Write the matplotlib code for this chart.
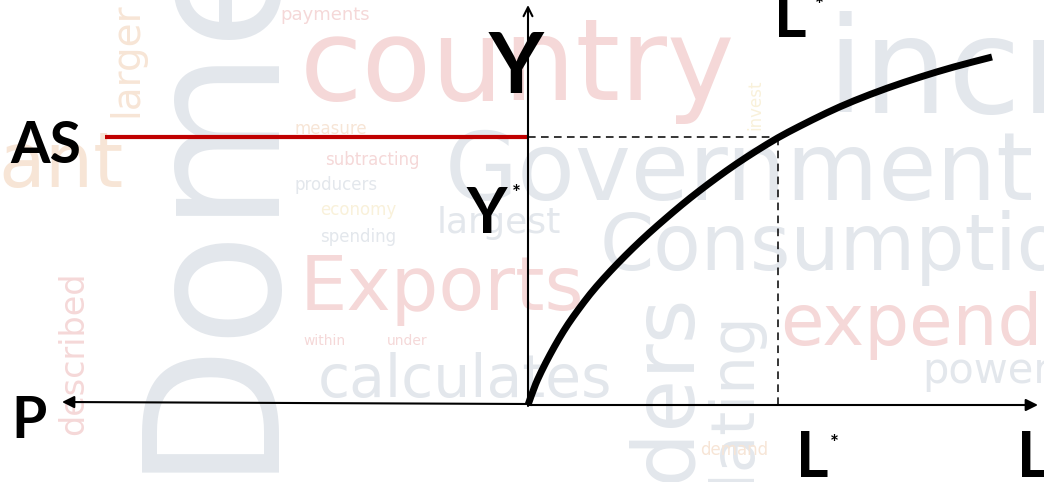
import matplotlib
matplotlib.use("Agg")
import matplotlib.pyplot as plt
from matplotlib.path import Path
from matplotlib.patches import PathPatch

# production function Y = f(L) (origin at the axis crossing)
curve_L = [0, 6, 13, 22, 31, 40, 50, 62, 75, 90, 105, 121, 137, 154, 171, 189,
           208, 228, 250, 270, 299, 325, 359, 392, 425, 464]
curve_Y = [0, 17.5, 33, 50.5, 66.5, 81, 95, 111, 126, 142, 157, 172, 186, 200.5, 214, 227.5,
           241, 254, 267.5, 278, 292.5, 304, 317, 328, 338, 348]
L_star = 250
Y_star = 268
AS_left = -423

# faded word cloud behind the diagram: (word, x px, baseline px, size, colour, rotation, align)
GRAY, RED, ORANGE, YELLOW = '#e3e7ec', '#f5d8d8', '#f7e5d6', '#f9f1da'
cloud = [
    ('Dome', 262, 472, 135, GRAY, 90, 'left'),
    ('country', 300, 100, 82, RED, 0, 'left'),
    ('incr', 826, 113, 96, GRAY, 0, 'left'),
    ('Government', 445, 200, 68, GRAY, 0, 'left'),
    ('Consumption', 600, 270, 56, GRAY, 0, 'left'),
    ('Exports', 300, 310, 54, RED, 0, 'left'),
    ('expend', 780, 345, 51, RED, 0, 'left'),
    ('calculates', 318, 397, 42, GRAY, 0, 'left'),
    ('power', 922, 383, 30, GRAY, 0, 'left'),
    ('largest', 437, 233, 26, GRAY, 0, 'left'),
    ('ant', -2, 187, 55, ORANGE, 0, 'left'),
    ('borders', 687, 290, 62, GRAY, 90, 'right'),
    ('regulating', 750, 310, 44, GRAY, 90, 'right'),
    ('larger', 137, 117, 28, ORANGE, 90, 'left'),
    ('described', 83, 435, 24, RED, 90, 'left'),
    ('payments', 280, 20, 13, RED, 0, 'left'),
    ('subtracting', 325, 165, 12, RED, 0, 'left'),
    ('producers', 295, 190, 12, GRAY, 0, 'left'),
    ('spending', 320, 242, 12, GRAY, 0, 'left'),
    ('measure', 295, 134, 12, ORANGE, 0, 'left'),
    ('economy', 320, 215, 12, YELLOW, 0, 'left'),
    ('within', 303, 345, 10, RED, 0, 'left'),
    ('under', 387, 345, 10, RED, 0, 'left'),
    ('demand', 700, 455, 12, ORANGE, 0, 'left'),
    ('invest', 760, 130, 12, YELLOW, 90, 'left'),
]

fig = plt.figure(figsize=(10.44, 4.82), dpi=100)
fig.patch.set_facecolor('white')

bg = fig.add_axes([0, 0, 1, 1])
bg.set_xlim(0, 1044)
bg.set_ylim(482, 0)
bg.axis('off')
for word, x, y, size, col, rot, ha in cloud:
    bg.text(x, y, word, fontsize=size, color=col, family='DejaVu Sans', rotation=rot,
            rotation_mode='anchor', ha=ha, va='baseline', clip_on=True)

ax = fig.add_axes([0, 0, 1, 1])
ax.set_xlim(-528, 516)
ax.set_ylim(-77, 405)
ax.axis('off')
ax.patch.set_alpha(0)

# axes arrows
ax.annotate('', xy=(0, 400), xytext=(0, -1),
            arrowprops=dict(arrowstyle='->', lw=1.5, color='black', mutation_scale=16,
                            shrinkA=0, shrinkB=0))
ax.annotate('', xy=(510, 0), xytext=(0, 0),
            arrowprops=dict(arrowstyle='-|>', lw=1.5, color='black', mutation_scale=18,
                            shrinkA=0, shrinkB=0))
ax.annotate('', xy=(-466, 3), xytext=(0, 1),
            arrowprops=dict(arrowstyle='-|>', lw=1.5, color='black', mutation_scale=18,
                            shrinkA=0, shrinkB=0))

# AS line and dashed guides
ax.plot([AS_left, 0], [Y_star, Y_star], color='#c00000', lw=3, solid_capstyle='butt')
ax.plot([0, L_star], [Y_star, Y_star], color='black', lw=1.1, ls=(0, (5, 3.5)))
ax.plot([L_star, L_star], [0, Y_star], color='black', lw=1.1, ls=(0, (5, 3.5)))

# production function: read points used as quadratic bezier controls so the line is smooth
pts = list(zip(curve_L, curve_Y))
verts = [pts[0]]
codes = [Path.MOVETO]
for i in range(1, len(pts) - 1):
    mid = ((pts[i][0] + pts[i + 1][0]) / 2, (pts[i][1] + pts[i + 1][1]) / 2)
    verts += [pts[i], mid]
    codes += [Path.CURVE3, Path.CURVE3]
verts.append(pts[-1])
codes.append(Path.LINETO)
ax.add_patch(PathPatch(Path(verts, codes), fill=False, edgecolor='black', lw=5,
                       capstyle='butt', joinstyle='round'))

lab = dict(family='Lato', weight='bold', color='black', va='baseline')
ax.text(-12, 405 - 93, 'Y', fontsize=61, ha='center', **lab)
ax.text(-41, 405 - 233, 'Y', fontsize=45, ha='center', **lab)
ax.text(-16, 405 - 200, '*', fontsize=15, ha='left', **lab)
ax.text(-518, 405 - 163, 'AS', fontsize=41, ha='left', **lab)
ax.text(-517, 405 - 438, 'P', fontsize=41, ha='left', **lab)
ax.text(268, 405 - 477, 'L', fontsize=45, ha='left', **lab)
ax.text(302, 405 - 450, '*', fontsize=15, ha='left', **lab)
ax.text(489, 405 - 477, 'L', fontsize=45, ha='left', **lab)
ax.text(246, 405 - 37, 'L', fontsize=45, ha='left', **lab)
ax.text(287, 405 - 12, '*', fontsize=15, ha='left', **lab)

fig.savefig('out.png', dpi=100, facecolor='white')
